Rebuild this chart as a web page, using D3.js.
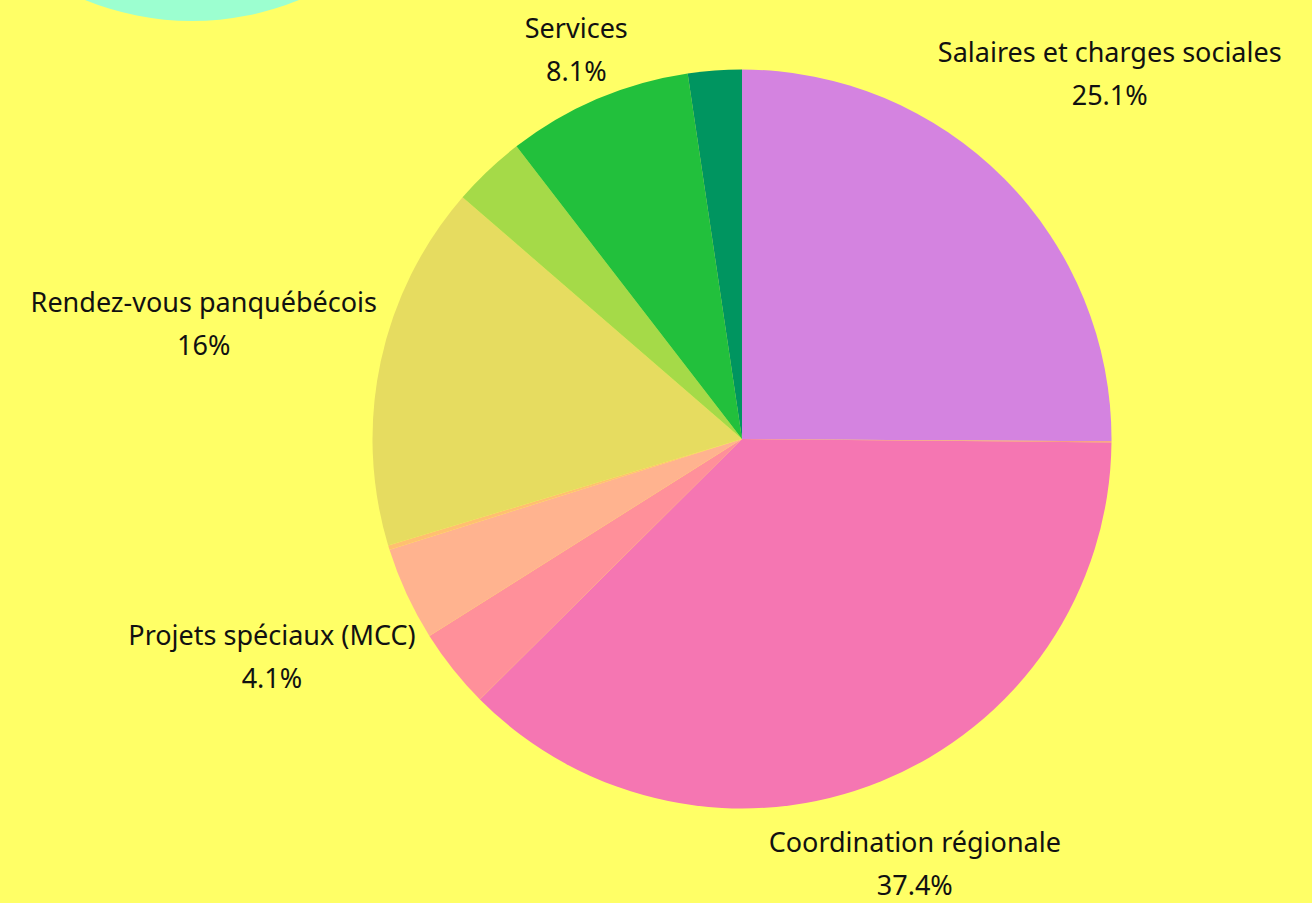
<!DOCTYPE html>
<html lang="fr">
<head>
<meta charset="UTF-8">
<title>Répartition des dépenses</title>
<script src="https://d3js.org/d3.v7.min.js"></script>
<style>
    html, body {
        margin: 0;
        padding: 0;
        background-color: #ffff66;
        overflow: hidden;
    }
    #chart text {
        font-family: 'Noto Sans', 'Open Sans', sans-serif;
        font-size: 27px;
        fill: #111;
    }
</style>
</head>
<body>
<div id="chart"></div>
<script>
    // slices, clockwise from 12 o'clock
    const categories = [
        "Salaires et charges sociales",
        "Autres",
        "Coordination régionale",
        "Communications",
        "Projets spéciaux (MCC)",
        "Frais divers",
        "Rendez-vous panquébécois",
        "Formation",
        "Services",
        "Administration"
    ];
    const values = [25.1, 0.05, 37.4, 3.5, 4.1, 0.2, 16, 3.2, 8.1, 2.35];
    const percentLabels = ["25.1%", "", "37.4%", "", "4.1%", "", "16%", "", "8.1%", ""];
    const colors = ["#d483e0", "#f99a86", "#f576b2", "#ff909a", "#ffb38f",
                    "#ffc070", "#e6dc60", "#a5da48", "#22c03c", "#009560"];

    const width = 1312, height = 903;
    const cx = 742, cy = 439, radius = 369.5;
    const fontSize = 27;

    const svg = d3.select("#chart").append("svg")
        .attr("width", width)
        .attr("height", height);

    svg.append("rect")
        .attr("width", width)
        .attr("height", height)
        .attr("fill", "#ffff66");

    // decorative mint disc peeking in at the top left
    svg.append("circle")
        .attr("cx", 192)
        .attr("cy", -262)
        .attr("r", 283)
        .attr("fill", "#9cffd0");

    const pie = d3.pie().sort(null).value(i => values[i]);
    const arcs = pie(d3.range(values.length));
    const arc = d3.arc().innerRadius(0).outerRadius(radius);

    const g = svg.append("g").attr("transform", `translate(${cx},${cy})`);

    g.selectAll("path")
        .data(arcs)
        .enter().append("path")
        .attr("d", arc)
        .attr("fill", d => colors[d.data]);

    // labels outside the pie, pushed out until their (visual) box clears the rim
    const gap = 5, lineGap = 43, capH = 0.72 * fontSize;
    const labelled = arcs.filter(d => percentLabels[d.data] !== "");

    const lbl = g.selectAll("g.lbl")
        .data(labelled)
        .enter().append("g")
        .attr("class", "lbl");

    lbl.append("text")
        .attr("text-anchor", "middle")
        .attr("y", 0)
        .text(d => categories[d.data]);
    lbl.append("text")
        .attr("text-anchor", "middle")
        .attr("y", lineGap)
        .text(d => percentLabels[d.data]);

    lbl.each(function(d) {
        const box = this.getBBox();
        const hw = box.width / 2, hh = (lineGap + capH) / 2;
        const ox = box.x + hw, oy = (lineGap - capH) / 2;
        const a = (d.startAngle + d.endAngle) / 2;
        const s = Math.sin(a), c = Math.cos(a);
        const r = radius + gap + Math.abs(hw * s) + Math.abs(hh * c);
        d3.select(this).attr("transform",
            `translate(${r * s - ox},${-r * c - oy})`);
    });
</script>
</body>
</html>
